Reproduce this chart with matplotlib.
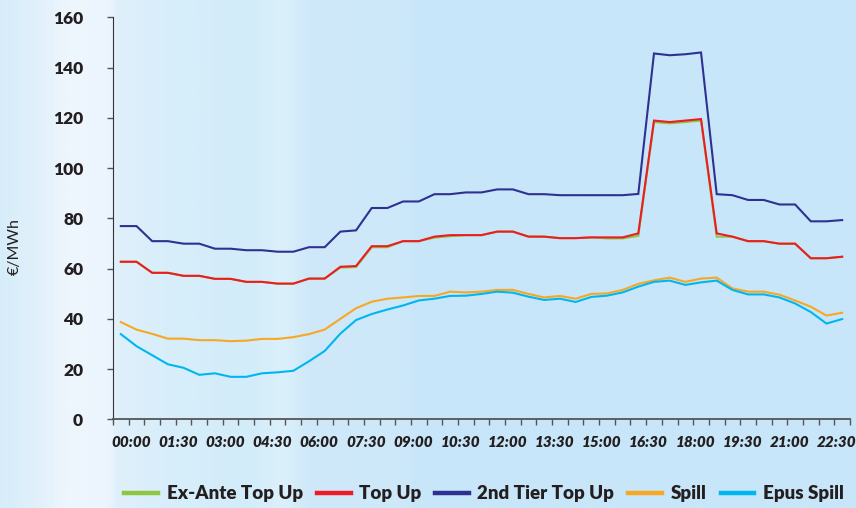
import numpy as np
import matplotlib
matplotlib.use("Agg")
import matplotlib.pyplot as plt
from matplotlib.colors import LinearSegmentedColormap
from matplotlib.transforms import ScaledTranslation

# Half-hourly settlement periods (00:00 .. 23:00)
periods = list(range(47))
tick_labels = ["00:00", "01:30", "03:00", "04:30", "06:00", "07:30", "09:00", "10:30",
               "12:00", "13:30", "15:00", "16:30", "18:00", "19:30", "21:00", "22:30"]

ex_ante_top_up = [62.7, 62.7, 58.3, 58.3, 57.1, 57.1, 55.9, 55.9, 54.7, 54.7, 54.0, 54.0,
                  56.0, 56.0, 60.4, 60.6, 68.5, 68.5, 70.9, 70.9, 72.3, 72.9, 73.3, 73.3,
                  74.7, 74.7, 72.7, 72.7, 72.1, 72.1, 72.4, 72.0, 72.0, 73.0, 118.3, 117.8,
                  118.3, 118.9, 72.7, 72.7, 70.9, 70.9, 69.9, 69.9, 64.1, 64.1, 64.7]
top_up = [62.7, 62.7, 58.3, 58.3, 57.1, 57.1, 55.9, 55.9, 54.7, 54.7, 54.0, 54.0,
          56.0, 56.0, 60.7, 61.0, 68.9, 68.9, 70.9, 70.9, 72.7, 73.3, 73.3, 73.3,
          74.7, 74.7, 72.7, 72.7, 72.1, 72.1, 72.4, 72.4, 72.4, 74.0, 118.9, 118.3,
          118.9, 119.5, 74.0, 72.7, 70.9, 70.9, 69.9, 69.9, 64.1, 64.1, 64.7]
second_tier_top_up = [76.9, 76.9, 70.9, 70.9, 69.9, 69.9, 67.9, 67.9, 67.3, 67.3, 66.7, 66.7,
                      68.5, 68.5, 74.7, 75.2, 84.1, 84.1, 86.7, 86.7, 89.6, 89.6, 90.3, 90.3,
                      91.5, 91.5, 89.6, 89.6, 89.2, 89.2, 89.2, 89.2, 89.2, 89.7, 145.6, 144.9,
                      145.3, 146.0, 89.6, 89.2, 87.3, 87.3, 85.5, 85.5, 78.8, 78.8, 79.3]
spill = [38.7, 35.7, 34.0, 32.1, 32.1, 31.5, 31.5, 31.1, 31.3, 32.0, 32.0, 32.7,
         33.9, 35.7, 40.0, 44.2, 46.8, 48.0, 48.5, 49.1, 49.1, 50.8, 50.5, 50.8,
         51.5, 51.5, 49.9, 48.5, 49.1, 48.0, 49.9, 50.1, 51.5, 53.9, 55.3, 56.4,
         54.7, 56.0, 56.4, 52.1, 50.8, 50.8, 49.6, 47.3, 44.8, 41.3, 42.4]
epus_spill = [33.9, 29.1, 25.5, 21.9, 20.5, 17.7, 18.3, 16.9, 16.9, 18.3, 18.7, 19.3,
              23.1, 27.2, 34.1, 39.5, 41.9, 43.7, 45.3, 47.3, 48.0, 49.1, 49.2, 49.9,
              50.8, 50.4, 48.8, 47.5, 48.0, 46.7, 48.7, 49.2, 50.5, 52.8, 54.7, 55.2,
              53.5, 54.5, 55.2, 51.5, 49.7, 49.7, 48.5, 46.1, 42.7, 38.1, 39.9]

series = [
    ("Ex-Ante Top Up", ex_ante_top_up, "#8dc63f"),
    ("Top Up", top_up, "#ed1c24"),
    ("2nd Tier Top Up", second_tier_top_up, "#2e3192"),
    ("Spill", spill, "#f7a823"),
    ("Epus Spill", epus_spill, "#00b6f0"),
]

plt.rcParams["font.family"] = ["Lato", "DejaVu Sans"]

fig = plt.figure(figsize=(8.56, 5.08), dpi=100)

# Soft banded light-blue backdrop
bg = fig.add_axes([0, 0, 1, 1], zorder=-10)
stops = [(0.0, "#d6edf9"), (0.05, "#e3f1fb"), (0.075, "#eef6fd"), (0.125, "#ecf5fd"),
         (0.135, "#dff0fb"), (0.19, "#d8eefa"), (0.29, "#d3ecfa"), (0.33, "#dbf0fb"),
         (0.36, "#cfe9f9"), (0.47, "#cde8f9"), (0.49, "#c8e6f9"), (1.0, "#c8e6f9")]
cmap = LinearSegmentedColormap.from_list("bgband", stops)
bg.imshow(np.linspace(0, 1, 512)[None, :], aspect="auto", cmap=cmap,
          extent=[0, 1, 0, 1], interpolation="bilinear")
bg.set_axis_off()

ax = fig.add_axes([113 / 856, 1 - 419.3 / 508, (850 - 113) / 856, 402 / 508])
ax.patch.set_alpha(0)

for name, vals, color in series:
    ax.plot(periods, vals, color=color, lw=1.5, label=name, solid_joinstyle="miter")

ax.set_xlim(-0.5, len(periods) - 0.5)
ax.set_ylim(0, 160)
ax.set_yticks(range(0, 161, 20))

for s in ("top", "right"):
    ax.spines[s].set_visible(False)
ax.spines["left"].set_color("#333333")
ax.spines["bottom"].set_color("#555555")
ax.spines["bottom"].set_linewidth(1.3)

ax.tick_params(axis="y", direction="out", length=4.5, width=1, color="#555555",
               pad=17, labelsize=12.5, labelcolor="#231f20")
for lbl in ax.get_yticklabels():
    lbl.set_fontweight("heavy")

# Category boundaries as major ticks, period labels as minor ticks
ax.set_xticks(np.arange(-0.5, len(periods), 1.0))
ax.set_xticklabels([])
ax.tick_params(axis="x", which="major", direction="out", length=4.5, width=1, color="#555555")
ax.set_xticks(periods[::3], minor=True)
ax.set_xticklabels(tick_labels, minor=True, fontsize=11, fontweight="heavy",
                   fontstyle="italic", color="#231f20")
ax.tick_params(axis="x", which="minor", length=0, pad=12)
shift = ScaledTranslation(10 / 100, 0, fig.dpi_scale_trans)
for lbl in ax.get_xticklabels(minor=True):
    lbl.set_transform(lbl.get_transform() + shift)

ax.set_ylabel("€/MWh", fontsize=11.5, color="#231f20", labelpad=0)
ax.yaxis.set_label_coords(-91 / 737, 0.43)

handles, labels = ax.get_legend_handles_labels()
leg = fig.legend(handles, labels, loc="center", bbox_to_anchor=(484 / 856, 1 - 494 / 508),
                 ncol=5, frameon=False, handlelength=1.8, handletextpad=0.45,
                 columnspacing=0.75, prop={"weight": "heavy", "size": 13.5})
for line in leg.get_lines():
    line.set_linewidth(3.2)
for t in leg.get_texts():
    t.set_color("#231f20")

fig.savefig("out.png", dpi=100)
